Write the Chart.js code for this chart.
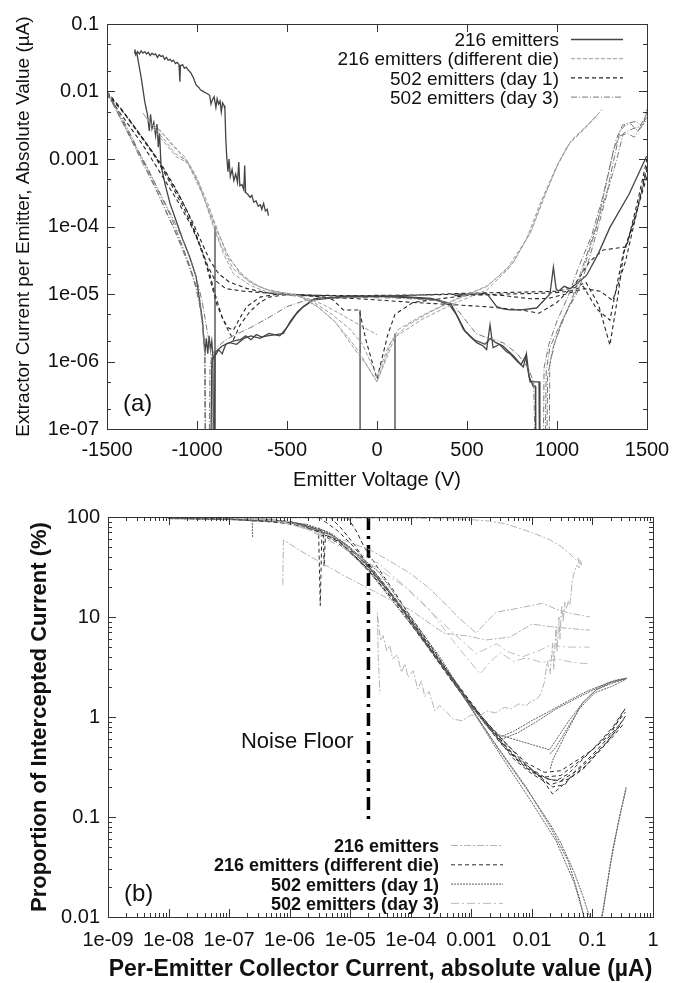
<!DOCTYPE html>
<html>
<head>
<meta charset="utf-8">
<script src="https://cdn.jsdelivr.net/npm/chart.js@4.4.1/dist/chart.umd.min.js"></script>
<style>
  html, body { margin: 0; padding: 0; background: #fff; }
  #chartA { position: absolute; left: 0; top: 0; }
  #chartB { position: absolute; left: 0; top: 492px; }
</style>
</head>
<body>
<canvas id="chartA" width="688" height="492"></canvas>
<canvas id="chartB" width="688" height="491"></canvas>
<script>
// ---------- axis ticks ----------
const topXTicks = [-1500, -1000, -500, 0, 500, 1000, 1500];
const topXLabels = ['-1500', '-1000', '-500', '0', '500', '1000', '1500'];
const topYTicks = [1e-7, 1e-6, 1e-5, 1e-4, 1e-3, 1e-2, 1e-1];
const topYLabels = ['1e-07', '1e-06', '1e-05', '1e-04', '0.001', '0.01', '0.1'];
const botXTicks = [1e-9, 1e-8, 1e-7, 1e-6, 1e-5, 1e-4, 1e-3, 1e-2, 1e-1, 1];
const botXLabels = ['1e-09', '1e-08', '1e-07', '1e-06', '1e-05', '1e-04', '0.001', '0.01', '0.1', '1'];
const botYTicks = [0.01, 0.1, 1, 10, 100];
const botYLabels = ['0.01', '0.1', '1', '10', '100'];

const seriesNames = ['216 emitters', '216 emitters (different die)', '502 emitters (day 1)', '502 emitters (day 3)'];

// ---------- (a) extractor current vs emitter voltage: [V, uA] ----------
// 216 emitters
const a216Noisy = [[-1350,3.7e-2],[-1345,4.2e-2],[-1340,3.5e-2],[-1330,3.9e-2],[-1320,3.6e-2],[-1310,4.0e-2],[-1300,3.7e-2],[-1290,3.9e-2],[-1280,3.6e-2],[-1270,3.8e-2],[-1260,3.4e-2],[-1250,3.7e-2],[-1240,3.5e-2],[-1230,3.6e-2],[-1220,3.2e-2],[-1210,3.5e-2],[-1200,3.3e-2],[-1190,3.4e-2],[-1180,3.0e-2],[-1170,3.2e-2],[-1160,2.9e-2],[-1150,3.0e-2],[-1140,2.8e-2],[-1130,2.9e-2],[-1120,2.6e-2],[-1110,2.7e-2],[-1100,2.5e-2],[-1095,1.4e-2],[-1092,2.4e-2],[-1080,2.5e-2],[-1070,2.2e-2],[-1060,2.3e-2],[-1050,2.1e-2],[-1035,1.9e-2],[-1020,1.6e-2],[-1005,1.25e-2],[-990,1.15e-2],[-980,1.05e-2],[-970,1.02e-2],[-960,9.8e-3],[-950,9.5e-3],[-940,9.2e-3],[-930,8.8e-3],[-922,6.5e-3],[-915,7.5e-3],[-905,8.4e-3],[-895,5.8e-3],[-888,7.8e-3],[-880,6.5e-3],[-872,7.2e-3],[-865,5.0e-3],[-858,6.8e-3],[-850,6.2e-3],[-845,5.5e-3],[-840,2.0e-3],[-835,1.1e-3],[-828,6.5e-4],[-822,1.0e-3],[-815,5.5e-4],[-805,7.0e-4],[-795,4.8e-4],[-785,6.0e-4],[-775,4.5e-4],[-768,9.0e-4],[-762,4.0e-4],[-750,4.2e-4],[-740,3.5e-4],[-735,8.0e-4],[-730,3.2e-4],[-718,3.0e-4],[-705,2.7e-4],[-695,2.9e-4],[-685,2.3e-4],[-672,2.4e-4],[-660,2.0e-4],[-648,2.1e-4],[-640,1.8e-4],[-630,2.2e-4],[-620,1.7e-4],[-610,1.8e-4],[-603,1.45e-4]];
const a216Drop = [[-1335,3.8e-2],[-1310,1.6e-2],[-1290,7e-3],[-1275,4.5e-3],[-1265,2.6e-3],[-1258,4.6e-3],[-1250,2.8e-3],[-1240,3.5e-3],[-1230,2.2e-3],[-1222,3.3e-3],[-1215,1.5e-3],[-1208,2.4e-3],[-1200,8e-4],[-1190,6e-4],[-1175,4e-4],[-1150,2.2e-4],[-1120,1.3e-4],[-1080,6.5e-5],[-1040,3.5e-5],[-1005,1.8e-5],[-985,8e-6],[-970,4e-6],[-962,2e-6],[-955,1.4e-6],[-948,2.2e-6],[-940,1.3e-6],[-933,2.4e-6],[-925,1.5e-6],[-918,2e-6],[-912,1.2e-6],[-906,1e-8]];
const a216Vert1 = [[-900,1e-4],[-900,1e-8]];
const a216Vert2 = [[-94,5.8e-6],[-94,1e-8]];
const a216Vert3 = [[100,2.6e-6],[100,1e-8]];
const a216LowA = [[-905,1e-8],[-900,1.2e-6],[-880,1.5e-6],[-860,1.3e-6],[-840,1.8e-6],[-800,2e-6],[-760,2.1e-6],[-730,2.4e-6],[-700,2.1e-6],[-670,2.5e-6],[-640,2.3e-6],[-610,2.4e-6],[-560,2.5e-6],[-520,2.6e-6],[-480,4e-6],[-440,5.5e-6],[-409,6.5e-6],[-350,8.2e-6],[-200,9e-6],[0,9.2e-6],[200,8.8e-6],[330,8.2e-6],[405,6.8e-6],[440,5e-6],[480,3e-6],[520,2.3e-6],[554,1.9e-6],[590,1.7e-6],[609,1.5e-6],[628,3.5e-6],[645,1.6e-6],[680,1.8e-6],[720,1.4e-6],[740,1.3e-6],[780,1e-6],[813,8.3e-7],[830,1.3e-6],[845,6e-7],[868,4.3e-7],[880,4.3e-7],[882,1e-8]];
const a216LowB = [[-925,1e-8],[-918,1e-6],[-895,1.4e-6],[-860,1.7e-6],[-820,1.9e-6],[-780,1.8e-6],[-740,2.2e-6],[-700,2.4e-6],[-650,2.2e-6],[-600,2.6e-6],[-540,2.4e-6],[-500,3.2e-6],[-450,5e-6],[-409,6.5e-6],[-350,8.5e-6],[-150,9.4e-6],[100,9.3e-6],[300,8.6e-6],[410,7.2e-6],[450,4.5e-6],[490,2.8e-6],[540,2.1e-6],[600,1.8e-6],[630,2.2e-6],[660,1.9e-6],[700,1.7e-6],[760,1.2e-6],[800,9e-7],[825,1.2e-6],[850,5e-7],[900,5e-7],[905,1e-8]];
const a216Hump = [[430,9.5e-6],[609,1.02e-5],[640,8e-6],[665,6.5e-6],[700,6e-6],[740,5.8e-6],[800,5.8e-6],[887,6.2e-6],[961,1e-5],[980,2.5e-5],[995,1.2e-5],[1007,1.1e-5],[1040,1.3e-5],[1072,1.2e-5],[1120,1.5e-5],[1165,1.9e-5],[1230,4e-5],[1294,9.7e-5],[1400,3e-4],[1498,1.1e-3]];
// 216 emitters (different die)
const aDie1 = [[-1300,4.8e-3],[-1206,2.1e-3],[-1113,1.07e-3],[-1048,8.7e-4],[-983,3.9e-4],[-909,1e-4],[-854,4e-5],[-798,2e-5],[-706,1.35e-5],[-613,1.07e-5],[-428,9.1e-6],[-330,6.5e-6],[-243,4.1e-6],[-150,2.1e-6],[-94,1.3e-6],[0,5e-7],[100,2.3e-6],[250,4.2e-6],[425,7.2e-6],[610,1.15e-5],[740,2.5e-5],[850,7.9e-5],[925,2.7e-4],[1000,7.8e-4],[1070,1.7e-3],[1165,3.0e-3],[1250,5.4e-3]];
const aDie2 = [[-1290,4.4e-3],[-1210,2.4e-3],[-1120,1.2e-3],[-1060,9.5e-4],[-1000,5e-4],[-930,1.6e-4],[-870,5.5e-5],[-800,2.4e-5],[-700,1.45e-5],[-600,1.12e-5],[-450,9.8e-6],[-350,7.5e-6],[-250,5e-6],[-150,3e-6],[-80,1.8e-6],[0,6e-7],[60,1.6e-6],[120,3e-6],[250,4.8e-6],[420,8e-6],[600,1.25e-5],[720,2.3e-5],[830,6.5e-5],[910,2.3e-4],[990,7e-4],[1060,1.6e-3],[1150,2.8e-3],[1240,5.0e-3]];
const aDie3 = [[-1270,3.6e-3],[-1200,2.6e-3],[-1130,1.5e-3],[-1070,1.1e-3],[-1010,6e-4],[-940,2.2e-4],[-880,8e-5],[-820,3.3e-5],[-720,1.6e-5],[-620,1.18e-5],[-430,9.4e-6],[-330,6.5e-6],[-230,3.8e-6],[-130,1.6e-6],[-60,9e-7],[0,5e-7],[80,2e-6],[160,3.3e-6],[300,5.5e-6],[450,8.5e-6],[620,1.35e-5],[760,3e-5],[860,9e-5],[940,3.2e-4],[1010,9e-4],[1080,1.9e-3],[1170,3.2e-3],[1230,4.6e-3]];
const aDie4 = [[-1240,3.2e-3],[-1180,2.2e-3],[-1110,1.4e-3],[-1040,7.5e-4],[-970,3e-4],[-900,1.05e-4],[-840,4.2e-5],[-760,2e-5],[-660,1.3e-5],[-560,1.05e-5],[-420,9.3e-6],[-300,7e-6],[-200,5e-6],[-100,3.5e-6],[0,2.5e-6]];
// 502 emitters (day 1)
const aDay1a = [[-1500,1.0e-2],[-1420,5.5e-3],[-1330,2.6e-3],[-1250,1.3e-3],[-1170,6e-4],[-1090,2.6e-4],[-1020,1.1e-4],[-970,5.5e-5],[-930,3.2e-5],[-880,2e-5],[-820,1.5e-5],[-720,1.2e-5],[-620,1.05e-5],[-500,1e-5],[-350,9.6e-6],[-200,9.3e-6],[-50,9.2e-6],[100,9.4e-6],[300,9.8e-6],[500,1.03e-5],[700,1.05e-5],[900,1.08e-5],[1000,1.1e-5],[1100,1.25e-5],[1160,1.5e-5],[1230,7e-6],[1294,1.75e-6],[1340,1e-5],[1370,4e-5],[1430,1.2e-4],[1500,7e-4]];
const aDay1b = [[-1500,9.2e-3],[-1400,4.6e-3],[-1300,2e-3],[-1200,8.5e-4],[-1120,3.7e-4],[-1050,1.6e-4],[-1000,7e-5],[-960,3.5e-5],[-920,1.4e-5],[-890,7e-6],[-860,4.5e-6],[-830,3.2e-6],[-798,2.9e-6],[-760,4.5e-6],[-724,6.5e-6],[-650,9e-6],[-550,1e-5],[-400,9.5e-6],[-250,8.8e-6],[-100,8.5e-6],[50,8e-6],[200,7.5e-6],[400,7e-6],[600,6.5e-6],[800,5.8e-6],[900,5.2e-6],[1000,7.5e-6],[1100,1.4e-5],[1180,3e-5],[1257,4.5e-5],[1387,5e-5],[1450,2.5e-4],[1500,1e-3]];
const aDay1c = [[-1500,9.6e-3],[-1410,5e-3],[-1320,2.3e-3],[-1230,1.05e-3],[-1150,4.5e-4],[-1070,1.8e-4],[-1010,8e-5],[-970,4e-5],[-930,2e-5],[-900,1e-5],[-860,4.5e-6],[-830,3e-6],[-798,2.1e-6],[-760,3.5e-6],[-706,5.5e-6],[-650,7.5e-6],[-600,9e-6],[-500,9.8e-6],[-350,9.3e-6],[-250,8.4e-6],[-187,5.8e-6],[-98,5.8e-6],[-60,2e-6],[0,5.5e-7],[60,2.5e-6],[100,5e-6],[200,7.5e-6],[350,8.5e-6],[500,9.5e-6],[700,1e-5],[900,1.02e-5],[1000,1.05e-5],[1070,1.1e-5],[1146,1.3e-5],[1220,6e-6],[1294,4.1e-6],[1368,4e-5],[1430,1.3e-4],[1500,5.5e-4]];
const aDay1d = [[-1500,9e-3],[-1400,3.8e-3],[-1300,1.6e-3],[-1200,6e-4],[-1100,2.2e-4],[-1030,1e-4],[-980,5e-5],[-940,2.6e-5],[-900,1.6e-5],[-840,1.2e-5],[-740,1.1e-5],[-640,1.05e-5],[-520,9.8e-6],[-380,9.6e-6],[-220,9.5e-6],[-60,9.5e-6],[100,9.6e-6],[300,9.7e-6],[500,1.0e-5],[700,9.5e-6],[850,8.5e-6],[950,8.6e-6],[1050,1e-5],[1150,1.2e-5],[1240,1.1e-5],[1310,8e-6],[1380,3e-5],[1440,1.5e-4],[1500,8e-4]];
// 502 emitters (day 3)
const aDay3a = [[-1500,1e-2],[-1440,5e-3],[-1380,2.5e-3],[-1320,1.2e-3],[-1260,5.5e-4],[-1200,2.5e-4],[-1140,1.1e-4],[-1080,4.5e-5],[-1030,2e-5],[-990,9e-6],[-968,4e-6],[-958,1.5e-6],[-952,1e-8],[-935,1e-8],[-928,8e-7],[-915,1.3e-6],[-890,1.6e-6],[-850,2e-6],[-800,2.4e-6],[-700,3.2e-6],[-600,4.5e-6],[-500,6.5e-6],[-400,8e-6],[-300,8.6e-6],[-100,8.9e-6],[100,8.7e-6],[300,8.2e-6],[420,7.2e-6],[480,4.5e-6],[550,2.6e-6],[620,2.2e-6],[700,1.9e-6],[780,1.3e-6],[840,8e-7],[870,5e-7],[885,1e-8],[930,1e-8],[940,7e-7],[960,1.6e-6],[1000,2.8e-6],[1060,6e-6],[1109,1e-5],[1165,2.5e-5],[1210,6.5e-5],[1257,1.9e-4],[1300,5e-4],[1331,9.6e-4],[1368,2.4e-3],[1420,2.8e-3],[1461,3e-3],[1500,4.8e-3]];
const aDay3b = [[-1500,9.8e-3],[-1450,6e-3],[-1390,3e-3],[-1330,1.4e-3],[-1270,7e-4],[-1210,3.2e-4],[-1150,1.5e-4],[-1090,6e-5],[-1040,2.6e-5],[-1000,1.2e-5],[-975,5e-6],[-962,2e-6],[-955,1e-6],[-950,1e-8],[940,1e-8],[948,6e-7],[975,1.5e-6],[1020,3.5e-6],[1080,8e-6],[1130,2e-5],[1180,5e-5],[1230,1.3e-4],[1280,3.5e-4],[1320,1.1e-3],[1350,2.6e-3],[1390,3.4e-3],[1440,3.6e-3],[1470,3.1e-3],[1500,3.8e-3]];
const aDay3c = [[-1500,1e-2],[-1430,4.2e-3],[-1360,1.8e-3],[-1290,7.5e-4],[-1220,3.2e-4],[-1160,1.4e-4],[-1100,6.5e-5],[-1050,3e-5],[-1010,1.4e-5],[-982,6e-6],[-962,2.5e-6],[-956,1.2e-6],[-953,1e-8],[922,1e-8],[928,8e-7],[955,1.8e-6],[1000,4e-6],[1060,9e-6],[1120,2.5e-5],[1190,7e-5],[1250,2.5e-4],[1295,8e-4],[1330,2e-3],[1365,3.2e-3],[1410,3.3e-3],[1450,2.6e-3],[1480,3.2e-3],[1500,5.5e-3]];
const aDay3d = [[-1500,9.4e-3],[-1420,3.8e-3],[-1340,1.5e-3],[-1260,6e-4],[-1190,2.6e-4],[-1120,1.1e-4],[-1060,5e-5],[-1010,2e-5],[-972,8e-6],[-945,3e-6],[-925,1.5e-6],[-912,6e-7],[-908,1e-8],[955,1e-8],[960,9e-7],[990,2e-6],[1040,4.5e-6],[1100,1e-5],[1160,3e-5],[1220,1e-4],[1275,4.5e-4],[1315,1.4e-3],[1350,2.2e-3],[1390,2.4e-3],[1430,2.1e-3],[1465,3e-3],[1500,4.2e-3]];

// ---------- (b) intercepted proportion vs collector current: [uA, %] ----------
// 216 emitters
const b216Loop = [[1e-9,99],[1e-8,99],[1e-7,98.5],[1e-6,98],[1e-5,97.5],[1e-4,97],[5e-4,96],[1e-3,94],[2e-3,91],[3.5e-3,86],[5.5e-3,79],[1e-2,70],[2e-2,59],[3e-2,51],[4e-2,44],[4.8e-2,40],[5.4e-2,37],[5.8e-2,39],[6e-2,34],[6.3e-2,38],[6.6e-2,33],[6.4e-2,36],[6e-2,31],[5.5e-2,33],[5e-2,28],[4.6e-2,22],[4.4e-2,16],[4.2e-2,13],[4e-2,14.5],[3.7e-2,12],[3.5e-2,14],[3.3e-2,9],[3.1e-2,13],[2.9e-2,6],[2.8e-2,10],[2.6e-2,4.5],[2.5e-2,8],[2.3e-2,3],[2.2e-2,5.5],[2e-2,2.7],[1.8e-2,3.6],[1.6e-2,2.2],[1.4e-2,1.7],[1.2e-2,1.5],[1e-2,1.45],[8e-3,1.3],[6e-3,1.35],[4.5e-3,1.2],[3.5e-3,1.25],[2.5e-3,1.1],[1.8e-3,1.15],[1.3e-3,1.0],[1e-3,1.05],[7e-4,0.92],[5e-4,0.95],[4e-4,1.1],[3e-4,1.3],[2.5e-4,1.15],[2e-4,1.8],[1.7e-4,1.6],[1.5e-4,2.3],[1.3e-4,1.9],[1.1e-4,2.9],[9e-5,2.5],[8e-5,3.4],[7e-5,2.8],[6e-5,4.2],[5e-5,3.8],[4.5e-5,5.2],[4e-5,4.6],[3.5e-5,6.5],[3.2e-5,5.8],[3e-5,7.5],[2.8e-5,11],[2.9e-5,4],[3.1e-5,1.7]];
const b216a = [[1e-7,99],[5e-7,93],[1e-6,85],[3e-6,70],[8e-6,58],[2.1e-5,47],[5e-5,35],[1e-4,27],[1.9e-4,20],[4e-4,13],[6e-4,10],[1.2e-3,6.9],[1.8e-3,9],[2.6e-3,11.2],[5e-3,12],[7e-3,12.5],[1.5e-2,13.7],[2.5e-2,12],[4e-2,11],[6e-2,10.5],[9e-2,10]];
const b216b = [[7.7e-7,21],[7.9e-7,59],[1.5e-6,46],[2.8e-6,37],[7.8e-6,26],[3e-5,17],[1e-4,11.7],[3.5e-4,6.9],[8e-4,6.5],[1.8e-3,5.9],[4.4e-3,6.3],[1e-2,8.5],[2e-2,8],[5e-2,7.6],[9e-2,7.4]];
// 216 emitters (different die)
const bDie1 = [[1e-8,98],[1e-7,96],[5e-7,90],[1e-6,85],[2e-6,77],[4e-6,67],[8e-6,52],[1.5e-5,38],[3e-5,24],[6e-5,14],[1e-4,9],[2e-4,5],[4e-4,2.8],[1e-3,1.3],[2e-3,0.78],[4e-3,0.47],[8e-3,0.31],[1.5e-2,0.25],[3e-2,0.26],[6e-2,0.36],[0.12,0.52],[0.2,0.72],[0.35,1.12]];
const bDie2 = [[1e-7,98],[6e-7,93],[1.5e-6,85],[3e-6,75],[3.6e-6,70],[3.7e-6,32],[3.9e-6,66],[6e-6,60],[1e-5,45],[2e-5,30],[4e-5,19],[8e-5,11],[1.6e-4,6],[3e-4,3.5],[6e-4,2],[1.2e-3,1.15],[2.5e-3,0.65],[5e-3,0.38],[1e-2,0.27],[2e-2,0.21],[4e-2,0.24],[8e-2,0.33],[0.15,0.5],[0.25,0.75],[0.35,1.02]];
const bDie3 = [[2e-7,99],[1e-6,90],[2e-6,82],[3e-6,73],[3.2e-6,13],[3.4e-6,66],[6e-6,56],[1.2e-5,40],[2.5e-5,25],[5e-5,15],[1e-4,8.5],[2e-4,4.8],[5e-4,2.2],[1e-3,1.27],[2e-3,0.82],[4e-3,0.52],[8e-3,0.35],[1.6e-2,0.28],[3e-2,0.29],[6e-2,0.38],[0.1,0.47],[0.2,0.68],[0.36,1.26]];
const bDie4 = [[4.6e-6,100],[7e-6,78],[1.2e-5,52],[2e-5,32],[4e-5,19],[8e-5,11.2],[1.6e-4,6.2],[3e-4,3.6],[6e-4,2.1],[1.2e-3,1.2],[3e-3,0.58],[6e-3,0.37],[1.2e-2,0.27],[2.2e-2,0.2],[3.5e-2,0.21],[5e-2,0.28],[0.1,0.42],[0.2,0.66],[0.33,0.95]];
const bDie5 = [[9e-6,100],[1.3e-5,70],[1.7e-5,50],[2.5e-5,35],[5e-5,19],[1e-4,10],[2e-4,5.5],[4e-4,2.9],[8e-4,1.6],[1.5e-3,1.0],[3e-3,0.63],[7e-3,0.36],[1.4e-2,0.25],[2.2e-2,0.17],[3e-2,0.2],[4.5e-2,0.25],[7e-2,0.3],[0.12,0.44],[0.22,0.64],[0.34,0.88]];
const bDie6 = [[1e-8,97],[1e-7,95],[1e-6,87],[3e-6,72],[7e-6,55],[1.5e-5,36],[3e-5,22],[7e-5,12],[1.5e-4,6.2],[3e-4,3.4],[7e-4,1.7],[1.4e-3,1.0],[3e-3,0.55],[6e-3,0.36],[1.2e-2,0.26],[2.5e-2,0.23],[4e-2,0.27],[7e-2,0.38],[0.13,0.56],[0.22,0.8],[0.34,1.2]];
const bDie7 = [[3e-6,100],[6e-6,74],[1e-5,55],[2e-5,34],[4.5e-5,18],[9e-5,10.5],[2e-4,5.2],[4.5e-4,2.6],[1e-3,1.35],[2.2e-3,0.75],[5e-3,0.42],[1e-2,0.3],[1.8e-2,0.24],[3e-2,0.23],[6e-2,0.3],[0.1,0.4],[0.18,0.58],[0.3,0.85]];
// 502 emitters (day 1)
const bDay1a = [[1e-8,97],[1e-7,95],[1e-6,89],[2e-6,84],[5e-6,68],[1e-5,48],[2e-5,31],[5e-5,16],[1e-4,9],[3e-4,3.5],[1e-3,1.22],[3e-3,0.45],[1e-2,0.16],[2e-2,0.085],[3e-2,0.055],[5e-2,0.028],[7e-2,0.016],[9e-2,0.01],[0.12,0.006],[0.145,0.01],[0.2,0.035],[0.27,0.09],[0.36,0.2]];
const bDay1b = [[3e-6,78],[8e-6,55],[2e-5,32],[6e-5,14],[2e-4,5],[8e-4,1.5],[3e-3,0.42],[1e-2,0.14],[2.5e-2,0.058],[5e-2,0.022],[7e-2,0.011],[8e-2,0.008]];
const bDay1c = [[1e-6,90],[5e-6,66],[2e-5,29],[1e-4,8.5],[5e-4,2.3],[2e-3,0.65],[8e-3,0.2],[2e-2,0.08],[4e-2,0.036],[6e-2,0.016],[7.5e-2,0.009],[0.13,0.008],[0.15,0.012],[0.22,0.05],[0.3,0.12],[0.36,0.19]];
const bDay1Loop1 = [[1e-8,97],[1e-7,95],[1e-6,90],[4e-6,72],[1e-5,50],[3e-5,25],[1e-4,9.5],[3e-4,3.8],[1e-3,1.3],[2e-3,0.8],[3e-3,0.63],[5e-3,0.72],[1e-2,0.92],[2e-2,1.15],[4e-2,1.45],[8e-2,1.8],[0.15,2.1],[0.25,2.35],[0.37,2.45],[0.2,2.15],[0.115,1.87],[7e-2,1.4],[4e-2,0.8],[2.5e-2,0.5],[1.95e-2,0.42]];
const bDay1Loop2 = [[1e-8,96],[1e-7,94],[1e-6,88],[5e-6,66],[1.5e-5,40],[5e-5,16],[2e-4,5],[8e-4,1.5],[2e-3,0.75],[3.2e-3,0.6],[6e-3,0.7],[1.2e-2,0.9],[2.5e-2,1.2],[5e-2,1.5],[0.1,1.85],[0.2,2.25],[0.36,2.4],[0.22,2.05],[0.11,1.75],[6e-2,1.2],[3.5e-2,0.65],[2.2e-2,0.37],[2e-2,0.3]];
const bDay1Loop3 = [[7.8e-6,55],[3e-5,28],[1e-4,10],[3e-4,4],[8.5e-4,1.5],[1.5e-3,0.95],[2.3e-3,0.69],[5e-3,0.6],[1e-2,0.53],[1.95e-2,0.47],[4e-2,0.9],[7e-2,1.4],[0.115,1.87],[0.2,2.2],[0.36,2.45]];
const bDay1Tick = [[2.4e-7,93],[2.45e-7,63]];
// 502 emitters (day 3)
const bDay3a = [[1e-9,100],[1e-8,100],[1e-7,99],[5e-7,96],[2e-6,75],[1e-5,45],[3e-5,30],[8e-5,20],[3.5e-4,8.5],[1.2e-3,4.3],[2.6e-3,5.4],[4e-3,4.5],[7e-3,4.0],[1.3e-2,4.6],[2e-2,5.2],[4e-2,5],[9e-2,5]];
const bDay3b = [[1e-9,99],[1e-8,99.5],[1e-7,99],[1e-6,90],[5e-6,60],[3e-5,34],[1e-4,18],[2e-4,12],[6e-4,5],[1.4e-3,2.7],[2e-3,3.5],[3e-3,4.4],[5e-3,3.6],[8e-3,3.9],[1.5e-2,3.5],[2.5e-2,3.8],[5e-2,3.5],[9e-2,3.4]];

// noise floor marker
const noiseFloorX = 2e-5;
const noiseFloorY = [100, 0.087];

// ---------- styles ----------
const FONT = "'Liberation Sans', Arial, Helvetica, sans-serif";
const topStyles = [
    { color: '#444444', dash: [], width: 1.3 },
    { color: '#9c9c9c', dash: [4, 2], width: 1 },
    { color: '#262626', dash: [4, 3], width: 1.1 },
    { color: '#777777', dash: [6, 2, 1, 2], width: 1 }
];
const botStyles = [
    { color: '#b3b3b3', dash: [7, 2, 2, 2], width: 1 },
    { color: '#2b2b2b', dash: [4, 3], width: 1 },
    { color: '#5e5e5e', dash: [2, 1], width: 1 },
    { color: '#bdbdbd', dash: [8, 3, 2, 3], width: 1 }
];

const topCurves = [
    [1, aDie1], [1, aDie2], [1, aDie3], [1, aDie4],
    [3, aDay3a], [3, aDay3b], [3, aDay3c], [3, aDay3d],
    [0, a216LowA], [0, a216LowB], [0, a216Hump], [0, a216Vert1], [0, a216Vert2], [0, a216Vert3],
    [2, aDay1a], [2, aDay1b], [2, aDay1c], [2, aDay1d],
    [0, a216Drop], [0, a216Noisy]
];
const botCurves = [
    [3, bDay3a], [3, bDay3b], [0, b216Loop], [0, b216a], [0, b216b],
    [2, bDay1a], [2, bDay1b], [2, bDay1c], [2, bDay1Loop1], [2, bDay1Loop2], [2, bDay1Loop3], [2, bDay1Tick],
    [1, bDie1], [1, bDie2], [1, bDie3], [1, bDie4], [1, bDie5], [1, bDie6], [1, bDie7]
];

const makeSet = (pts, st) => ({
    data: pts.map(p => ({ x: p[0], y: p[1] })),
    showLine: true, pointRadius: 0, fill: false, tension: 0,
    borderColor: st.color, borderWidth: st.width, borderDash: st.dash
});

// minor tick helper (log axes)
const logMinors = (lo, hi, mults) => {
    const out = [];
    for (let e = lo; e < hi; e++) mults.forEach(m => out.push(m * Math.pow(10, e)));
    return out;
};

// gnuplot look: frame, inward ticks, key, labels
const gnuplotLook = {
    id: 'gnuplotLook',
    afterDatasetsDraw(chart, args, o) {
        const { ctx, chartArea: a, scales } = chart;
        const xs = scales.x, ys = scales.y;
        const seg = (x1, y1, x2, y2) => { ctx.beginPath(); ctx.moveTo(x1, y1); ctx.lineTo(x2, y2); ctx.stroke(); };
        ctx.save();
        ctx.strokeStyle = '#333';
        ctx.lineWidth = 1;
        ctx.setLineDash([]);
        const xt = (vals, len) => vals.forEach(v => {
            const p = Math.round(xs.getPixelForValue(v)) + 0.5;
            if (p < a.left - 1 || p > a.right + 1) return;
            seg(p, a.bottom, p, a.bottom - len); seg(p, a.top, p, a.top + len);
        });
        const yt = (vals, len) => vals.forEach(v => {
            const p = Math.round(ys.getPixelForValue(v)) + 0.5;
            if (p < a.top - 1 || p > a.bottom + 1) return;
            seg(a.left, p, a.left + len, p); seg(a.right, p, a.right - len, p);
        });
        xt(o.xMajor, 8); xt(o.xMinor, 4);
        yt(o.yMajor, 8); yt(o.yMinor, 4);
        ctx.strokeRect(a.left + 0.5, a.top + 0.5, a.right - a.left, a.bottom - a.top);

        // key
        const k = o.key;
        ctx.font = k.font;
        ctx.fillStyle = '#111';
        ctx.textAlign = 'right';
        ctx.textBaseline = 'middle';
        k.labels.forEach((lab, i) => {
            const y = k.y0 + i * k.dy;
            ctx.fillText(lab, k.textRight, y + 1);
            const st = k.styles[i];
            ctx.strokeStyle = st.color;
            ctx.lineWidth = st.width;
            ctx.setLineDash(st.dash);
            seg(k.x0, y - 0.5, k.x1, y - 0.5);
            ctx.setLineDash([]);
        });

        // free labels
        o.notes.forEach(n => {
            ctx.font = n.font;
            ctx.fillStyle = '#111';
            ctx.textAlign = n.align;
            ctx.textBaseline = 'middle';
            const x = n.xv !== undefined ? xs.getPixelForValue(n.xv) + n.dx : a.left + n.dx;
            const y = n.yv !== undefined ? ys.getPixelForValue(n.yv) : a.bottom - n.dy;
            ctx.fillText(n.text, x, y);
        });
        ctx.restore();
    }
};

const tickFont = { family: FONT, size: 20 };

// ---------- chart (a) ----------
new Chart(document.getElementById('chartA'), {
    type: 'scatter',
    data: { datasets: topCurves.map(([s, pts]) => makeSet(pts, topStyles[s])) },
    options: {
        responsive: false,
        animation: false,
        events: [],
        layout: { padding: { left: 0, right: 41, top: 24, bottom: 0 } },
        plugins: {
            legend: { display: false },
            tooltip: { enabled: false },
            gnuplotLook: {
                xMajor: topXTicks, xMinor: [],
                yMajor: topYTicks, yMinor: logMinors(-7, -1, [2, 5]),
                key: { labels: seriesNames, styles: topStyles, textRight: 559, x0: 571, x1: 623, y0: 40, dy: 19.2, font: '19px ' + FONT },
                notes: [{ text: '(a)', dx: 16, dy: 25, align: 'left', font: '24px ' + FONT }]
            }
        },
        scales: {
            x: {
                type: 'linear', min: -1500, max: 1500,
                afterBuildTicks: s => { s.ticks = topXTicks.map(v => ({ value: v })); },
                afterFit: s => { s.height = 63; },
                grid: { display: false, drawTicks: false },
                border: { display: false },
                ticks: { callback: (v, i) => topXLabels[i], font: tickFont, color: '#111', padding: 9, maxRotation: 0, autoSkip: false },
                title: { display: true, text: 'Emitter Voltage (V)', font: { family: FONT, size: 20 }, color: '#111', padding: { top: 0, bottom: 0 } }
            },
            y: {
                type: 'logarithmic', min: 1e-7, max: 0.1,
                afterBuildTicks: s => { s.ticks = topYTicks.map(v => ({ value: v })); },
                afterFit: s => { s.width = 107; },
                grid: { display: false, drawTicks: false },
                border: { display: false },
                ticks: { callback: (v, i) => topYLabels[i], font: tickFont, color: '#111', padding: 8, autoSkip: false },
                title: { display: true, text: 'Extractor Current per Emitter, Absolute Value (\u00b5A)', font: { family: FONT, size: 19 }, color: '#111', padding: { top: 12, bottom: 0 } }
            }
        }
    },
    plugins: [gnuplotLook]
});

// ---------- chart (b) ----------
const botSets = botCurves.map(([s, pts]) => makeSet(pts, botStyles[s]));
botSets.push({
    data: noiseFloorY.map(y => ({ x: noiseFloorX, y: y })),
    showLine: true, pointRadius: 0, fill: false,
    borderColor: '#000', borderWidth: 3.5, borderDash: [13, 6, 3, 6]
});

new Chart(document.getElementById('chartB'), {
    type: 'scatter',
    data: { datasets: botSets },
    options: {
        responsive: false,
        animation: false,
        events: [],
        layout: { padding: { left: 0, right: 35, top: 25, bottom: 0 } },
        plugins: {
            legend: { display: false },
            tooltip: { enabled: false },
            gnuplotLook: {
                xMajor: botXTicks, xMinor: logMinors(-9, 0, [2, 3, 4, 5, 6, 7, 8, 9]),
                yMajor: botYTicks, yMinor: logMinors(-2, 2, [2, 3, 4, 5, 6, 7, 8, 9]),
                key: { labels: seriesNames, styles: botStyles, textRight: 439, x0: 451, x1: 503, y0: 354, dy: 19.3, font: 'bold 18px ' + FONT },
                notes: [
                    { text: '(b)', dx: 16, dy: 23, align: 'left', font: '24px ' + FONT },
                    { text: 'Noise Floor', xv: noiseFloorX, dx: -15, yv: 0.56, align: 'right', font: '22px ' + FONT }
                ]
            }
        },
        scales: {
            x: {
                type: 'logarithmic', min: 1e-9, max: 1,
                afterBuildTicks: s => { s.ticks = botXTicks.map(v => ({ value: v })); },
                afterFit: s => { s.height = 66; },
                grid: { display: false, drawTicks: false },
                border: { display: false },
                ticks: { callback: (v, i) => botXLabels[i], font: tickFont, color: '#111', padding: 11, maxRotation: 0, autoSkip: false },
                title: { display: true, text: 'Per-Emitter Collector Current, absolute value (\u00b5A)', font: { family: FONT, size: 23, weight: 'bold' }, color: '#111', padding: { top: 0, bottom: 0 } }
            },
            y: {
                type: 'logarithmic', min: 0.01, max: 100,
                afterBuildTicks: s => { s.ticks = botYTicks.map(v => ({ value: v })); },
                afterFit: s => { s.width = 108; },
                grid: { display: false, drawTicks: false },
                border: { display: false },
                ticks: { callback: (v, i) => botYLabels[i], font: tickFont, color: '#111', padding: 8, autoSkip: false },
                title: { display: true, text: 'Proportion of Intercepted Current (%)', font: { family: FONT, size: 22, weight: 'bold' }, color: '#111', padding: { top: 27, bottom: 0 } }
            }
        }
    },
    plugins: [gnuplotLook]
});
</script>
</body>
</html>
